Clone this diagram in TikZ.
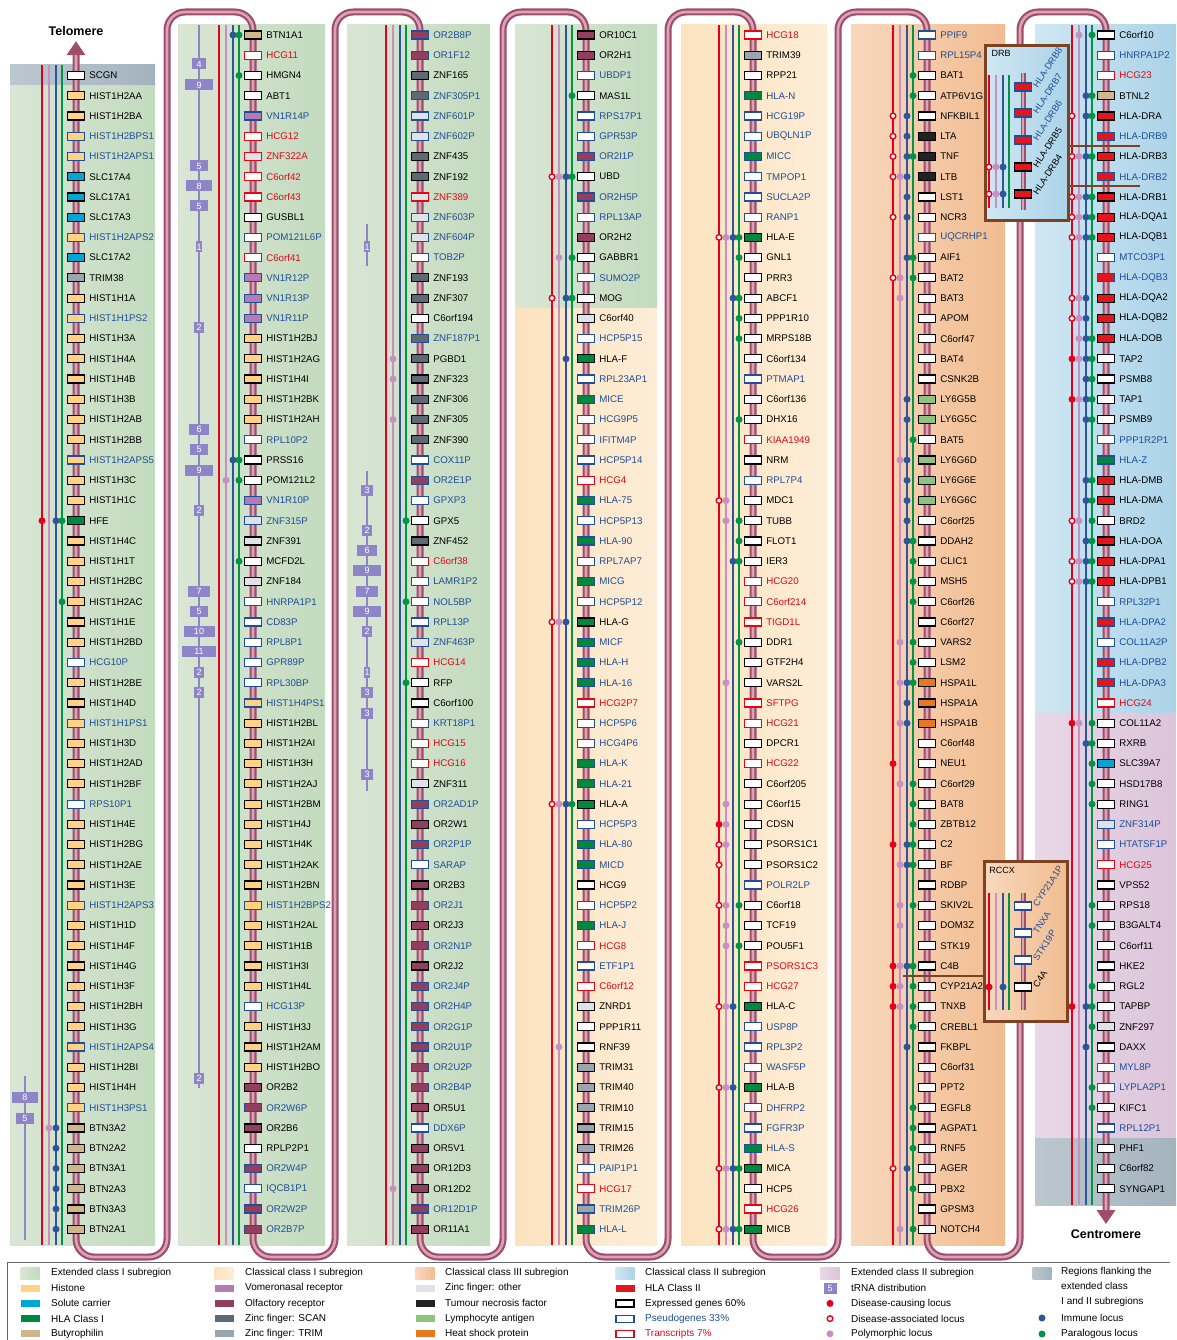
\documentclass[tikz,border=0pt]{standalone}
\usepackage{xcolor}
\usepackage{fontspec}
\setmainfont{Liberation Sans}
\usepackage{tikz}
\usetikzlibrary{arrows.meta, positioning}

\definecolor{extIa}{HTML}{D9E6D4}
\definecolor{extIb}{HTML}{C3DBBF}
\definecolor{clIa}{HTML}{FCE3BF}
\definecolor{clIb}{HTML}{FDEDD7}
\definecolor{clIIIa}{HTML}{F8D8BD}
\definecolor{clIIIb}{HTML}{F1BC90}
\definecolor{clIIa}{HTML}{CFE7F2}
\definecolor{clIIb}{HTML}{ABD3E8}
\definecolor{extIIa}{HTML}{E9D8E7}
\definecolor{extIIb}{HTML}{DCC4DA}
\definecolor{flanka}{HTML}{BCC8D0}
\definecolor{flankb}{HTML}{A3B3BE}
\definecolor{tubedark}{HTML}{A04D6B}
\definecolor{tubelight}{HTML}{D9A4B6}
\definecolor{locred}{HTML}{E3001B}
\definecolor{locpink}{HTML}{C790C0}
\definecolor{locblue}{HTML}{2D5599}
\definecolor{locgreen}{HTML}{009444}
\definecolor{pseudoblue}{HTML}{1F4E96}
\definecolor{transred}{HTML}{E30613}
\definecolor{trnacol}{HTML}{8D85C8}
\definecolor{insetbrown}{HTML}{7C4222}
\definecolor{histone}{HTML}{FFD383}
\definecolor{solute}{HTML}{00A7D4}
\definecolor{hlaone}{HTML}{00883F}
\definecolor{butyro}{HTML}{CFB78C}
\definecolor{vomero}{HTML}{B57BB4}
\definecolor{olfact}{HTML}{923E5E}
\definecolor{zscan}{HTML}{5E6A73}
\definecolor{ztrim}{HTML}{9AA6AF}
\definecolor{zother}{HTML}{DFE3E8}
\definecolor{tnfcol}{HTML}{222222}
\definecolor{lympho}{HTML}{8FC47E}
\definecolor{heatsh}{HTML}{E8781E}
\definecolor{hlatwo}{HTML}{E2161D}

\begin{document}
\begin{tikzpicture}[
  x=1pt, y=-1pt,
  genebox/.style={draw, fill=white, line width=1.2pt, minimum width=17pt,
                  minimum height=8pt, inner sep=0pt},
  genename/.style={font=\fontsize{9.7}{11}\selectfont, inner sep=0pt},
  insetname/.style={font=\fontsize{9.2}{10}\selectfont, inner sep=0pt,
                    rotate=57, anchor=west},
  k-wh/.style={fill=white},  k-hi/.style={fill=histone}, k-sl/.style={fill=solute},
  k-hA/.style={fill=hlaone}, k-bt/.style={fill=butyro},  k-vn/.style={fill=vomero},
  k-ol/.style={fill=olfact}, k-sc/.style={fill=zscan},   k-tr/.style={fill=ztrim},
  k-zo/.style={fill=zother}, k-tn/.style={fill=tnfcol},  k-ly/.style={fill=lympho},
  k-hs/.style={fill=heatsh}, k-hB/.style={fill=hlatwo},
  s-e/.style={draw=black}, s-p/.style={draw=pseudoblue}, s-t/.style={draw=transred},
  t-e/.style={text=black}, t-p/.style={text=pseudoblue}, t-t/.style={text=transred},
  locline/.style={line width=1.3pt},
  mk/.style={circle, inner sep=0pt, minimum size=7pt},
  dot-r/.style={mk, fill=locred},
  dot-o/.style={mk, fill=white, draw=locred, line width=1.4pt, minimum size=5.6pt},
  dot-p/.style={mk, fill=locpink},
  dot-b/.style={mk, fill=locblue},
  dot-g/.style={mk, fill=locgreen},
  mk-r/.style={dot-r, xshift=-34pt}, mk-o/.style={dot-o, xshift=-34pt},
  mk-p/.style={dot-p, xshift=-27pt}, mk-b/.style={dot-b, xshift=-20pt},
  mk-g/.style={dot-g, xshift=-14pt},
  tube/.style={line width=7pt, draw=tubedark, rounded corners=18pt,
               {Triangle[width=18pt,length=14pt]}-{Triangle[width=18pt,length=14pt]},
               postaction={draw=tubelight, line width=2.6pt, arrows=-,
                           shorten <=14pt, shorten >=14pt}},
  minitube/.style={line width=5pt, draw=tubedark,
                   postaction={draw=tubelight, line width=1.8pt}},
  trna/.style={fill=trnacol, text=white, font=\fontsize{9}{9}\selectfont,
               inner sep=0pt, minimum height=11pt},
  trnaline/.style={draw=trnacol, line width=1.5pt},
  inset/.style={draw=insetbrown, line width=3pt, inner sep=0pt, anchor=north west},
  insetlink/.style={draw=insetbrown, line width=2.5pt},
  insettitle/.style={font=\fontsize{9}{10}\selectfont, inner sep=0pt},
  endlabel/.style={font=\bfseries\fontsize{12.5}{14}\selectfont},
  typekey/.style={minimum width=19pt, minimum height=7pt, inner sep=0pt},
  regkey/.style={minimum width=19pt, minimum height=12pt, inner sep=0pt},
  boxkey/.style={genebox, minimum width=18pt, minimum height=7pt},
  keytext/.style={font=\fontsize{10}{15}\selectfont, anchor=west, inner sep=0pt,
                  align=left},
  legendframe/.style={draw=black!60, line width=0.8pt},
]
\useasboundingbox (0,0) rectangle (1176,1340);

%% ── Subregions (column backgrounds) ──────────────────────────────────────
\shade[left color=flanka, right color=flankb] (10,65) rectangle (155,86);
\shade[left color=extIa, right color=extIb] (10,86) rectangle (155,1245);
\shade[left color=extIa, right color=extIb] (178,25) rectangle (325,1245);
\shade[left color=extIa, right color=extIb] (347,25) rectangle (490,1245);
\shade[left color=extIa, right color=extIb] (515,25) rectangle (657,308);
\shade[left color=clIa, right color=clIb] (515,308) rectangle (657,1245);
\shade[left color=clIa, right color=clIb] (681,25) rectangle (827,1245);
\shade[left color=clIIIa, right color=clIIIb] (851,25) rectangle (1005,1245);
\shade[left color=clIIa, right color=clIIb] (1035,25) rectangle (1176,713);
\shade[left color=extIIa, right color=extIIb] (1035,713) rectangle (1176,1138);
\shade[left color=flanka, right color=flankb] (1035,1138) rectangle (1176,1205);

%% ── Locus lines (disease, polymorphic, immune, paralogous) ───────────────
\foreach \bx/\ytop/\ybot in {76/65/1245, 253/25/1245, 420/25/1245, 586/25/1245,
                             753/25/1245, 927/25/1245, 1106/25/1205}
  \foreach \dx/\lc in {-34/locred, -27/locpink, -20/locblue, -14/locgreen}
    \draw[locline, draw=\lc] ({\bx+\dx},\ytop) -- ({\bx+\dx},\ybot);

%% ── tRNA distribution ────────────────────────────────────────────────────
\draw[trnaline] (25,1076) -- (25,1240);
\foreach \ty/\tn [count=\j] in {1097/8, 1118/5}
  \node[trna, minimum width={(4+2.7*\tn)*1pt}] (trA\j) at (25,\ty) {\tn};
\draw[trnaline] (199,25) -- (199,1088);
\foreach \ty/\tn [count=\j] in {64/4, 85/9, 166/5, 186/8, 206/5, 247/1, 327/2,
    429/6, 449/5, 470/9, 510/2, 591/7, 611/5, 631/10, 651/11, 672/2, 692/2, 1078/2}
  \node[trna, minimum width={(4+2.7*\tn)*1pt}] (trB\j) at (199,\ty) {\tn};
\draw[trnaline] (367,224) -- (367,266);
\draw[trnaline] (367,471) -- (367,791);
\foreach \ty/\tn [count=\j] in {247/1, 490/3, 530/2, 550/6, 570/9, 591/7, 611/9,
    631/2, 672/1, 692/3, 713/3, 774/3}
  \node[trna, minimum width={(4+2.7*\tn)*1pt}] (trC\j) at (367,\ty) {\tn};

%% ── Chromosome (telomere to centromere) ──────────────────────────────────
\node[endlabel] (telo) at (76,31) {Telomere};
\node[endlabel] (centro) at (1106,1234) {Centromere};
\draw[tube] ([yshift=-2pt]telo.south) -- (76,1257) -- (167,1257) -- (167,12)
  -- (253,12) -- (253,1257) -- (335,1257) -- (335,12) -- (420,12) -- (420,1257)
  -- (503,1257) -- (503,12) -- (586,12) -- (586,1257) -- (668,1257) -- (668,12)
  -- (753,12) -- (753,1257) -- (838,1257) -- (838,12) -- (927,12) -- (927,1257)
  -- (1020,1257) -- (1020,12) -- (1106,12) -- ([yshift=2pt]centro.north);

%% ── Column 1 ─────────────────────────────────────────────────────────────
\foreach \gname/\gfill/\gstat [count=\i from 3] in {SCGN/wh/e, HIST1H2AA/hi/e,
    HIST1H2BA/hi/e, HIST1H2BPS1/hi/p, HIST1H2APS1/hi/p, SLC17A4/sl/e, SLC17A1/sl/e,
    SLC17A3/sl/e, HIST1H2APS2/hi/p, SLC17A2/sl/e, TRIM38/tr/e, HIST1H1A/hi/e,
    HIST1H1PS2/hi/p, HIST1H3A/hi/e, HIST1H4A/hi/e, HIST1H4B/hi/e, HIST1H3B/hi/e,
    HIST1H2AB/hi/e, HIST1H2BB/hi/e, HIST1H2APS5/hi/p, HIST1H3C/hi/e, HIST1H1C/hi/e,
    HFE/hA/e, HIST1H4C/hi/e, HIST1H1T/hi/e, HIST1H2BC/hi/e, HIST1H2AC/hi/e,
    HIST1H1E/hi/e, HIST1H2BD/hi/e, HCG10P/wh/p, HIST1H2BE/hi/e, HIST1H4D/hi/e,
    HIST1H1PS1/hi/p, HIST1H3D/hi/e, HIST1H2AD/hi/e, HIST1H2BF/hi/e, RPS10P1/wh/p,
    HIST1H4E/hi/e, HIST1H2BG/hi/e, HIST1H2AE/hi/e, HIST1H3E/hi/e, HIST1H2APS3/hi/p,
    HIST1H1D/hi/e, HIST1H4F/hi/e, HIST1H4G/hi/e, HIST1H3F/hi/e, HIST1H2BH/hi/e,
    HIST1H3G/hi/e, HIST1H2APS4/hi/p, HIST1H2BI/hi/e, HIST1H4H/hi/e, HIST1H3PS1/hi/p,
    BTN3A2/bt/e, BTN2A2/bt/e, BTN3A1/bt/e, BTN2A3/bt/e, BTN3A3/bt/e, BTN2A1/bt/e}{
  \node[genebox, k-\gfill, s-\gstat] (g1-\i) at (76,{35+(\i-1)*20.24}) {};
  \node[genename, t-\gstat, right=4pt of g1-\i] (g1-\i-txt) {\gname};
}

%% ── Column 2 ─────────────────────────────────────────────────────────────
\foreach \gname/\gfill/\gstat [count=\i] in {BTN1A1/bt/e, HCG11/wh/t, HMGN4/wh/e,
    ABT1/wh/e, VN1R14P/vn/p, HCG12/wh/t, ZNF322A/zo/t, C6orf42/wh/t, C6orf43/wh/t,
    GUSBL1/wh/e, POM121L6P/wh/p, C6orf41/wh/t, VN1R12P/vn/p, VN1R13P/vn/p,
    VN1R11P/vn/p, HIST1H2BJ/hi/e, HIST1H2AG/hi/e, HIST1H4I/hi/e, HIST1H2BK/hi/e,
    HIST1H2AH/hi/e, RPL10P2/wh/p, PRSS16/wh/e, POM121L2/wh/e, VN1R10P/vn/p,
    ZNF315P/zo/p, ZNF391/zo/e, MCFD2L/wh/e, ZNF184/zo/e, HNRPA1P1/wh/p, CD83P/wh/p,
    RPL8P1/wh/p, GPR89P/wh/p, RPL30BP/wh/p, HIST1H4PS1/hi/p, HIST1H2BL/hi/e,
    HIST1H2AI/hi/e, HIST1H3H/hi/e, HIST1H2AJ/hi/e, HIST1H2BM/hi/e, HIST1H4J/hi/e,
    HIST1H4K/hi/e, HIST1H2AK/hi/e, HIST1H2BN/hi/e, HIST1H2BPS2/hi/p, HIST1H2AL/hi/e,
    HIST1H1B/hi/e, HIST1H3I/hi/e, HIST1H4L/hi/e, HCG13P/wh/p, HIST1H3J/hi/e,
    HIST1H2AM/hi/e, HIST1H2BO/hi/e, OR2B2/ol/e, OR2W6P/ol/p, OR2B6/ol/e,
    RPLP2P1/wh/e, OR2W4P/ol/p, IQCB1P1/wh/p, OR2W2P/ol/p, OR2B7P/ol/p}{
  \node[genebox, k-\gfill, s-\gstat] (g2-\i) at (253,{35+(\i-1)*20.24}) {};
  \node[genename, t-\gstat, right=4pt of g2-\i] (g2-\i-txt) {\gname};
}

%% ── Column 3 ─────────────────────────────────────────────────────────────
\foreach \gname/\gfill/\gstat [count=\i] in {OR2B8P/ol/p, OR1F12/ol/p, ZNF165/sc/e,
    ZNF305P1/sc/p, ZNF601P/zo/p, ZNF602P/zo/p, ZNF435/sc/e, ZNF192/sc/e,
    ZNF389/zo/t, ZNF603P/zo/p, ZNF604P/zo/p, TOB2P/wh/p, ZNF193/sc/e, ZNF307/sc/e,
    C6orf194/wh/e, ZNF187P1/sc/p, PGBD1/sc/e, ZNF323/sc/e, ZNF306/sc/e, ZNF305/sc/e,
    ZNF390/sc/e, COX11P/wh/p, OR2E1P/ol/p, GPXP3/wh/p, GPX5/wh/e, ZNF452/sc/e,
    C6orf38/wh/t, LAMR1P2/wh/p, NOL5BP/wh/p, RPL13P/wh/p, ZNF463P/zo/p, HCG14/wh/t,
    RFP/wh/e, C6orf100/wh/e, KRT18P1/wh/p, HCG15/wh/t, HCG16/wh/t, ZNF311/zo/e,
    OR2AD1P/ol/p, OR2W1/ol/e, OR2P1P/ol/p, SARAP/wh/p, OR2B3/ol/e, OR2J1/ol/p,
    OR2J3/ol/e, OR2N1P/ol/p, OR2J2/ol/e, OR2J4P/ol/p, OR2H4P/ol/p, OR2G1P/ol/p,
    OR2U1P/ol/p, OR2U2P/ol/p, OR2B4P/ol/p, OR5U1/ol/e, DDX6P/wh/p, OR5V1/ol/e,
    OR12D3/ol/e, OR12D2/ol/e, OR12D1P/ol/p, OR11A1/ol/e}{
  \node[genebox, k-\gfill, s-\gstat] (g3-\i) at (420,{35+(\i-1)*20.24}) {};
  \node[genename, t-\gstat, right=4pt of g3-\i] (g3-\i-txt) {\gname};
}

%% ── Column 4 ─────────────────────────────────────────────────────────────
\foreach \gname/\gfill/\gstat [count=\i] in {OR10C1/ol/e, OR2H1/ol/e, UBDP1/wh/p,
    MAS1L/wh/e, RPS17P1/wh/p, GPR53P/wh/p, OR2I1P/ol/p, UBD/wh/e, OR2H5P/ol/p,
    RPL13AP/wh/p, OR2H2/ol/e, GABBR1/wh/e, SUMO2P/wh/p, MOG/wh/e, C6orf40/zo/e,
    HCP5P15/wh/p, HLA-F/hA/e, RPL23AP1/wh/p, MICE/hA/p, HCG9P5/wh/p, IFITM4P/wh/p,
    HCP5P14/wh/p, HCG4/wh/t, HLA-75/hA/p, HCP5P13/wh/p, HLA-90/hA/p, RPL7AP7/wh/p,
    MICG/hA/p, HCP5P12/wh/p, HLA-G/hA/e, MICF/hA/p, HLA-H/hA/p, HLA-16/hA/p,
    HCG2P7/wh/t, HCP5P6/wh/p, HCG4P6/wh/p, HLA-K/hA/p, HLA-21/hA/p, HLA-A/hA/e,
    HCP5P3/wh/p, HLA-80/hA/p, MICD/hA/p, HCG9/wh/e, HCP5P2/wh/p, HLA-J/hA/p,
    HCG8/wh/t, ETF1P1/wh/p, C6orf12/wh/t, ZNRD1/zo/e, PPP1R11/wh/e, RNF39/wh/e,
    TRIM31/tr/e, TRIM40/tr/e, TRIM10/tr/e, TRIM15/tr/e, TRIM26/tr/e, PAIP1P1/wh/p,
    HCG17/wh/t, TRIM26P/tr/p, HLA-L/hA/p}{
  \node[genebox, k-\gfill, s-\gstat] (g4-\i) at (586,{35+(\i-1)*20.24}) {};
  \node[genename, t-\gstat, right=4pt of g4-\i] (g4-\i-txt) {\gname};
}

%% ── Column 5 ─────────────────────────────────────────────────────────────
\foreach \gname/\gfill/\gstat [count=\i] in {HCG18/wh/t, TRIM39/tr/e, RPP21/wh/e,
    HLA-N/hA/p, HCG19P/wh/p, UBQLN1P/wh/p, MICC/hA/p, TMPOP1/wh/p, SUCLA2P/wh/p,
    RANP1/wh/p, HLA-E/hA/e, GNL1/wh/e, PRR3/wh/e, ABCF1/wh/e, PPP1R10/wh/e,
    MRPS18B/wh/e, C6orf134/wh/e, PTMAP1/wh/p, C6orf136/wh/e, DHX16/wh/e,
    KIAA1949/wh/t, NRM/wh/e, RPL7P4/wh/p, MDC1/wh/e, TUBB/wh/e, FLOT1/wh/e,
    IER3/wh/e, HCG20/wh/t, C6orf214/wh/t, TIGD1L/wh/t, DDR1/wh/e, GTF2H4/wh/e,
    VARS2L/wh/e, SFTPG/wh/t, HCG21/wh/t, DPCR1/wh/e, HCG22/wh/t, C6orf205/wh/e,
    C6orf15/wh/e, CDSN/wh/e, PSORS1C1/wh/e, PSORS1C2/wh/e, POLR2LP/wh/p,
    C6orf18/wh/e, TCF19/wh/e, POU5F1/wh/e, PSORS1C3/wh/t, HCG27/wh/t, HLA-C/hA/e,
    USP8P/wh/p, RPL3P2/wh/p, WASF5P/wh/p, HLA-B/hA/e, DHFRP2/wh/p, FGFR3P/wh/p,
    HLA-S/hA/p, MICA/hA/e, HCP5/wh/e, HCG26/wh/t, MICB/hA/e}{
  \node[genebox, k-\gfill, s-\gstat] (g5-\i) at (753,{35+(\i-1)*20.24}) {};
  \node[genename, t-\gstat, right=4pt of g5-\i] (g5-\i-txt) {\gname};
}

%% ── Column 6 ─────────────────────────────────────────────────────────────
\foreach \gname/\gfill/\gstat [count=\i] in {PPIF9/wh/p, RPL15P4/wh/p, BAT1/wh/e,
    ATP6V1G2/wh/e, NFKBIL1/wh/e, LTA/tn/e, TNF/tn/e, LTB/tn/e, LST1/wh/e,
    NCR3/wh/e, UQCRHP1/wh/p, AIF1/wh/e, BAT2/wh/e, BAT3/wh/e, APOM/wh/e,
    C6orf47/wh/e, BAT4/wh/e, CSNK2B/wh/e, LY6G5B/ly/e, LY6G5C/ly/e, BAT5/wh/e,
    LY6G6D/ly/e, LY6G6E/ly/e, LY6G6C/ly/e, C6orf25/wh/e, DDAH2/wh/e, CLIC1/wh/e,
    MSH5/wh/e, C6orf26/wh/e, C6orf27/wh/e, VARS2/wh/e, LSM2/wh/e, HSPA1L/hs/e,
    HSPA1A/hs/e, HSPA1B/hs/e, C6orf48/wh/e, NEU1/wh/e, C6orf29/wh/e, BAT8/wh/e,
    ZBTB12/wh/e, C2/wh/e, BF/wh/e, RDBP/wh/e, SKIV2L/wh/e, DOM3Z/wh/e, STK19/wh/e,
    C4B/wh/e, CYP21A2/wh/e, TNXB/wh/e, CREBL1/wh/e, FKBPL/wh/e, C6orf31/wh/e,
    PPT2/wh/e, EGFL8/wh/e, AGPAT1/wh/e, RNF5/wh/e, AGER/wh/e, PBX2/wh/e,
    GPSM3/wh/e, NOTCH4/wh/e}{
  \node[genebox, k-\gfill, s-\gstat] (g6-\i) at (927,{35+(\i-1)*20.24}) {};
  \node[genename, t-\gstat, right=4pt of g6-\i] (g6-\i-txt) {\gname};
}

%% ── Column 7 ─────────────────────────────────────────────────────────────
\foreach \gname/\gfill/\gstat [count=\i] in {C6orf10/wh/e, HNRPA1P2/wh/p,
    HCG23/wh/t, BTNL2/bt/e, HLA-DRA/hB/e, HLA-DRB9/hB/p, HLA-DRB3/hB/e,
    HLA-DRB2/hB/p, HLA-DRB1/hB/e, HLA-DQA1/hB/e, HLA-DQB1/hB/e, MTCO3P1/wh/p,
    HLA-DQB3/hB/p, HLA-DQA2/hB/e, HLA-DQB2/hB/e, HLA-DOB/hB/e, TAP2/wh/e,
    PSMB8/wh/e, TAP1/wh/e, PSMB9/wh/e, PPP1R2P1/wh/p, HLA-Z/hA/p, HLA-DMB/hB/e,
    HLA-DMA/hB/e, BRD2/wh/e, HLA-DOA/hB/e, HLA-DPA1/hB/e, HLA-DPB1/hB/e,
    RPL32P1/wh/p, HLA-DPA2/hB/p, COL11A2P/wh/p, HLA-DPB2/hB/p, HLA-DPA3/hB/p,
    HCG24/wh/t, COL11A2/wh/e, RXRB/wh/e, SLC39A7/sl/e, HSD17B8/wh/e, RING1/wh/e,
    ZNF314P/zo/p, HTATSF1P/wh/p, HCG25/wh/t, VPS52/wh/e, RPS18/wh/e,
    B3GALT4/wh/e, C6orf11/wh/e, HKE2/wh/e, RGL2/wh/e, TAPBP/wh/e, ZNF297/zo/e,
    DAXX/wh/e, MYL8P/wh/p, LYPLA2P1/wh/p, KIFC1/wh/e, RPL12P1/wh/p, PHF1/wh/e,
    C6orf82/wh/e, SYNGAP1/wh/e}{
  \node[genebox, k-\gfill, s-\gstat] (g7-\i) at (1106,{35+(\i-1)*20.24}) {};
  \node[genename, t-\gstat, right=4pt of g7-\i] (g7-\i-txt) {\gname};
}

%% ── Loci markers ─────────────────────────────────────────────────────────
\foreach \r/\m in {25/r,25/b,25/g,29/g,55/p,55/b,56/b,57/b,58/b,59/b,60/b}
  \node[mk-\m] (m1-\r\m) at (76,{35+(\r-1)*20.24}) {};
\foreach \r/\m in {1/b,1/g,3/g,22/b,22/g,23/p,23/g,27/g}
  \node[mk-\m] (m2-\r\m) at (253,{35+(\r-1)*20.24}) {};
\foreach \r/\m in {17/p,18/p,20/p,25/g,29/g,33/g,58/p}
  \node[mk-\m] (m3-\r\m) at (420,{35+(\r-1)*20.24}) {};
\foreach \r/\m in {4/g,8/o,8/p,8/b,8/g,12/p,12/g,14/o,14/b,14/g,17/b,30/o,30/p,
    30/b,39/o,39/p,39/b,39/g,51/p}
  \node[mk-\m] (m4-\r\m) at (586,{35+(\r-1)*20.24}) {};
\foreach \r/\m in {11/o,11/p,11/b,11/g,12/g,14/b,14/g,15/g,16/g,20/g,24/o,24/p,
    25/p,25/g,26/g,27/b,27/g,31/g,33/p,39/p,40/r,40/p,41/o,41/p,42/o,44/o,44/p,
    44/g,45/p,46/p,46/g,49/o,49/p,49/b,53/o,53/p,53/b,57/o,57/p,57/b,57/g,60/o,
    60/p,60/b,60/g}
  \node[mk-\m] (m5-\r\m) at (753,{35+(\r-1)*20.24}) {};
\foreach \r/\m in {3/g,4/g,5/o,5/b,6/o,6/b,7/o,7/b,7/g,8/o,8/p,8/b,9/b,10/o,10/b,
    12/b,12/g,13/o,13/p,13/g,14/p,19/b,20/b,21/g,22/p,22/b,23/b,24/b,25/b,26/b,
    26/g,27/g,28/g,29/g,31/p,31/g,32/g,33/p,33/b,33/g,34/b,35/p,35/b,37/r,38/p,
    38/g,39/g,40/g,41/r,41/b,41/g,42/p,42/b,42/g,44/p,44/g,45/p,47/r,47/p,47/b,
    47/g,48/r,48/p,48/g,49/r,49/p,49/g,50/g,51/b,54/g,55/g,56/g,57/o,57/b,58/g,
    60/p,60/g}
  \node[mk-\m] (m6-\r\m) at (927,{35+(\r-1)*20.24}) {};
\foreach \r/\m in {1/p,1/g,4/b,4/g,5/o,5/b,5/g,7/o,7/p,7/b,7/g,9/o,9/p,9/b,9/g,
    10/o,10/p,10/b,10/g,11/o,11/p,11/b,11/g,14/o,14/p,14/b,15/o,15/p,15/b,16/p,
    16/b,16/g,17/r,17/p,17/b,17/g,18/b,18/g,19/r,19/p,19/b,19/g,20/b,20/g,23/b,
    23/g,24/b,24/g,25/o,25/p,25/g,26/b,26/g,27/o,27/p,27/b,27/g,28/o,28/p,28/b,
    28/g,35/r,35/p,35/g,36/b,36/g,37/g,38/g,39/g,44/g,45/g,48/g,49/r,49/b,49/g,
    50/g,51/b,53/g,54/g}
  \node[mk-\m] (m7-\r\m) at (1106,{35+(\r-1)*20.24}) {};

%% ── DRB inset ────────────────────────────────────────────────────────────
\node[inset, minimum width=83pt, minimum height=175pt,
      left color=clIIa, right color=clIIb] (drb) at (984,44) {};
\node[insettitle] (drb-title) at (1001,53) {DRB};
\foreach \dx/\lc in {-34/locred, -27/locpink, -20/locblue, -14/locgreen}
  \draw[locline, draw=\lc] ({1023+\dx},75) -- ({1023+\dx},208);
\draw[minitube] (1023,73) -- (1023,210);
\foreach \gname/\gstat/\gy [count=\k] in {HLA-DRB8/p/87, HLA-DRB7/p/113,
    HLA-DRB6/p/140, HLA-DRB5/e/167, HLA-DRB4/e/194}{
  \node[genebox, k-hB, s-\gstat] (drb\k) at (1023,\gy) {};
  \node[insetname, t-\gstat] (drb\k-txt) at ([xshift=3pt]drb\k.east) {\gname};
}
\foreach \gy/\m in {167/o,167/p,167/b,194/o,194/p,194/b}
  \node[mk-\m] (drb-m\gy\m) at (1023,\gy) {};
\coordinate (drbA) at (1140,146);
\coordinate (drbB) at (1140,186);
\draw[insetlink] (drb.east |- drbA) -- (drbA);
\draw[insetlink] (drb.east |- drbB) -- (drbB);

%% ── RCCX inset ───────────────────────────────────────────────────────────
\node[inset, minimum width=83pt, minimum height=160pt,
      left color=clIIIa, right color=clIIIb] (rccx) at (983,860) {};
\node[insettitle] (rccx-title) at (1002,870) {RCCX};
\foreach \dx/\lc in {-34/locred, -27/locpink, -20/locblue, -14/locgreen}
  \draw[locline, draw=\lc] ({1023+\dx},893) -- ({1023+\dx},1010);
\draw[minitube] (1023,893) -- (1023,1010);
\foreach \gname/\gstat/\gy [count=\k] in {CYP21A1P/p/906, TNXA/p/933,
    STK19P/p/960, C4A/e/987}{
  \node[genebox, k-wh, s-\gstat] (rccx\k) at (1023,\gy) {};
  \node[insetname, t-\gstat] (rccx\k-txt) at ([xshift=3pt]rccx\k.east) {\gname};
}
\node[mk-r] (rccx-mr) at (1023,987) {};
\node[mk-b] (rccx-mb) at (1023,987) {};
\coordinate (rccxA) at (903,976);
\draw[insetlink] (rccxA) -- (rccx.west |- rccxA);

%% ── Legend ───────────────────────────────────────────────────────────────
\draw[legendframe] (7,1340) -- (7,1262) -- (1170,1262);

\node[regkey, left color=extIa, right color=extIb] (keyA0) at (30,1273) {};
\node[keytext] (keyA0-txt) at (51,1273) {Extended class I subregion};
\foreach \ks/\kt [count=\j] in {k-hi/Histone, k-sl/Solute carrier,
    k-hA/HLA Class I, k-bt/Butyrophilin}{
  \node[typekey, \ks] (keyA\j) at (30,{1273+\j*15.2}) {};
  \node[keytext] (keyA\j-txt) at (51,{1273+\j*15.2}) {\kt};
}

\node[regkey, left color=clIa, right color=clIb] (keyB0) at (224,1273) {};
\node[keytext] (keyB0-txt) at (245,1273) {Classical class I subregion};
\foreach \ks/\kt [count=\j] in {k-vn/Vomeronasal receptor, k-ol/Olfactory receptor,
    k-sc/Zinc finger: SCAN, k-tr/Zinc finger: TRIM}{
  \node[typekey, \ks] (keyB\j) at (224,{1273+\j*15.2}) {};
  \node[keytext] (keyB\j-txt) at (245,{1273+\j*15.2}) {\kt};
}

\node[regkey, left color=clIIIa, right color=clIIIb] (keyC0) at (425,1273) {};
\node[keytext] (keyC0-txt) at (445,1273) {Classical class III subregion};
\foreach \ks/\kt [count=\j] in {k-zo/Zinc finger: other, k-tn/Tumour necrosis factor,
    k-ly/Lymphocyte antigen, k-hs/Heat shock protein}{
  \node[typekey, \ks] (keyC\j) at (425,{1273+\j*15.2}) {};
  \node[keytext] (keyC\j-txt) at (445,{1273+\j*15.2}) {\kt};
}

\node[regkey, left color=clIIa, right color=clIIb] (keyD0) at (625,1273) {};
\node[keytext] (keyD0-txt) at (645,1273) {Classical class II subregion};
\node[typekey, k-hB] (keyD1) at (625,1288) {};
\node[keytext] (keyD1-txt) at (645,1288) {HLA Class II};
\foreach \st/\kt [count=\j from 2] in {e/Expressed genes 60\%,
    p/Pseudogenes 33\%, t/Transcripts 7\%}{
  \node[boxkey, s-\st] (keyD\j) at (625,{1273+\j*15.2}) {};
  \node[keytext, t-\st] (keyD\j-txt) at (645,{1273+\j*15.2}) {\kt};
}

\node[regkey, left color=extIIa, right color=extIIb] (keyE0) at (830,1273) {};
\node[keytext] (keyE0-txt) at (851,1273) {Extended class II subregion};
\node[trna, minimum width=13pt] (keyE1) at (830,1288) {5};
\node[keytext] (keyE1-txt) at (851,1288) {tRNA distribution};
\foreach \m/\kt [count=\j from 2] in {r/Disease-causing locus,
    o/Disease-associated locus, p/Polymorphic locus}{
  \node[dot-\m] (keyE\j) at (830,{1273+\j*15.2}) {};
  \node[keytext] (keyE\j-txt) at (851,{1273+\j*15.2}) {\kt};
}

\node[regkey, left color=flanka, right color=flankb] (keyF0) at (1042,1273) {};
\node[keytext, anchor=north west] (keyF0-txt) at (1061,1267)
  {Regions flanking the\\extended class\\I and II subregions};
\node[dot-b] (keyF1) at (1042,1318) {};
\node[keytext] (keyF1-txt) at (1061,1318) {Immune locus};
\node[dot-g] (keyF2) at (1042,1334) {};
\node[keytext] (keyF2-txt) at (1061,1334) {Paralogous locus};

\end{tikzpicture}
\end{document}
